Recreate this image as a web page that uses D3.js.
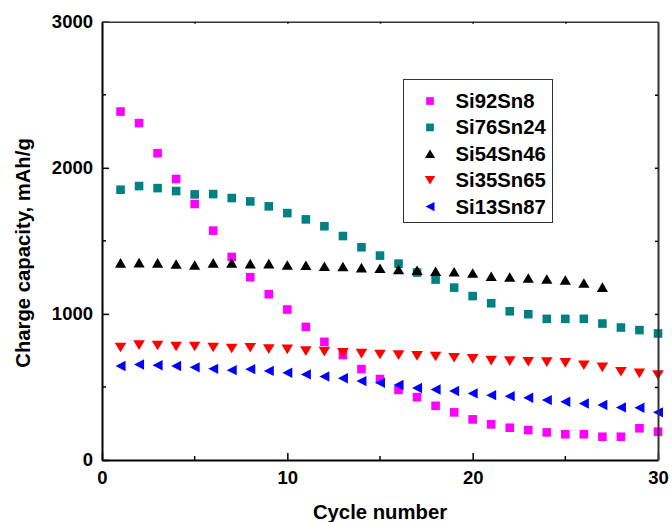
<!DOCTYPE html>
<html>
<head>
<meta charset="utf-8">
<script src="https://cdn.jsdelivr.net/npm/d3@7"></script>
<style>
  html, body { margin: 0; padding: 0; background: #fff; }
  svg { display: block; font-family: "Liberation Sans", Arial, sans-serif; font-weight: bold; }
</style>
</head>
<body>
<div id="chart"></div>
<script>
// cycle numbers
const cycles = d3.range(1, 31);

// charge capacity (mAh/g)
const si92sn8 = [2385, 2306, 2100, 1923, 1752, 1570, 1390, 1251, 1135, 1030, 911, 809, 718, 622, 554,
    480, 430, 371, 326, 278, 244, 221, 205, 189, 176, 176, 159, 159, 217, 194];
const si76sn24 = [1850, 1875, 1861, 1841, 1818, 1820, 1793, 1770, 1736, 1690, 1647, 1600, 1533, 1456, 1399,
    1344, 1283, 1235, 1180, 1122, 1073, 1018, 998, 966, 966, 966, 934, 907, 889, 866];
const si54sn46 = [1349, 1351, 1349, 1342, 1335, 1349, 1349, 1344, 1344, 1335, 1333, 1326, 1324, 1317, 1312,
    1305, 1299, 1292, 1288, 1280, 1258, 1253, 1246, 1239, 1232, 1212, 1183];
const si35sn65 = [770, 786, 784, 777, 777, 770, 763, 768, 759, 757, 745, 742, 733, 728, 722,
    718, 713, 708, 700, 692, 680, 677, 672, 670, 665, 649, 634, 604, 593, 581];
const si13sn87 = [643, 654, 649, 643, 634, 624, 615, 622, 610, 597, 586, 572, 560, 540, 528,
    513, 493, 483, 472, 456, 444, 437, 426, 410, 399, 387, 376, 360, 358, 326];

const seriesNames = ['Si92Sn8', 'Si76Sn24', 'Si54Sn46', 'Si35Sn65', 'Si13Sn87'];
const xTicks = [0, 10, 20, 30];
const yTicks = [0, 1000, 2000, 3000];

const series = [
    { name: seriesNames[0], values: si92sn8, color: '#ff00ff', shape: 'square' },
    { name: seriesNames[1], values: si76sn24, color: '#008080', shape: 'square' },
    { name: seriesNames[2], values: si54sn46, color: '#000000', shape: 'up' },
    { name: seriesNames[3], values: si35sn65, color: '#ff0000', shape: 'down' },
    { name: seriesNames[4], values: si13sn87, color: '#0000ff', shape: 'left' },
];

const width = 672, height = 522;
const margin = { left: 102, right: 14, top: 21.7, bottom: 62 };

const x = d3.scaleLinear().domain([0, 30]).range([margin.left, width - margin.right]);
const y = d3.scaleLinear().domain([0, 3000]).range([height - margin.bottom, margin.top]);

const svg = d3.select('#chart').append('svg')
    .attr('width', width)
    .attr('height', height);

// marker paths centred on the bounding box
function markerPath(shape) {
    if (shape === 'square') return 'M-4.3,-4.3H4.3V4.3H-4.3Z';
    if (shape === 'up') return 'M0,-4.8L5.6,4.8L-5.6,4.8Z';
    if (shape === 'down') return 'M0,4.8L5.8,-4.8L-5.8,-4.8Z';
    return 'M-5,0L5,-5.2L5,5.2Z';
}

// points
series.forEach(s => {
    svg.append('g')
        .attr('class', 'series')
        .selectAll('path')
        .data(s.values)
        .enter()
        .append('path')
            .attr('d', markerPath(s.shape))
            .attr('transform', (d, i) => `translate(${x(cycles[i])},${y(d)})`)
            .attr('fill', s.color);
});

// axes, ticks point inward
const x0 = x.range()[0], x1 = x.range()[1];
const y0 = y.range()[0], y1 = y.range()[1];
const fmt = d3.format('d');

const bottomAxis = svg.append('g')
    .attr('transform', `translate(0,${y0})`)
    .call(d3.axisBottom(x).tickValues(xTicks).tickFormat(fmt).tickSizeInner(-7).tickSizeOuter(0).tickPadding(11));
bottomAxis.append('g').selectAll('line')
    .data([5, 15, 25]).enter().append('line')
    .attr('x1', d => x(d)).attr('x2', d => x(d)).attr('y1', 0).attr('y2', -4);

const leftAxis = svg.append('g')
    .attr('transform', `translate(${x0},0)`)
    .call(d3.axisLeft(y).tickValues(yTicks).tickFormat(fmt).tickSizeInner(-7).tickSizeOuter(0).tickPadding(9));
leftAxis.append('g').selectAll('line')
    .data([500, 1500, 2500]).enter().append('line')
    .attr('y1', d => y(d)).attr('y2', d => y(d)).attr('x1', 0).attr('x2', 4);

const topAxis = svg.append('g')
    .attr('transform', `translate(0,${y1})`)
    .call(d3.axisTop(x).tickValues([5, 10, 15, 20, 25]).tickSizeInner(-2).tickSizeOuter(0).tickFormat(''));

const rightAxis = svg.append('g')
    .attr('transform', `translate(${x1},0)`)
    .call(d3.axisRight(y).tickValues([500, 1000, 1500, 2000, 2500]).tickSizeInner(-3).tickSizeOuter(0).tickFormat(''));

[bottomAxis, leftAxis, topAxis, rightAxis].forEach(g => {
    g.select('.domain').attr('stroke', '#000').attr('stroke-width', 2);
    g.selectAll('line').attr('stroke', '#000').attr('stroke-width', 1.5);
});
topAxis.select('.domain').attr('stroke', '#333').attr('stroke-width', 1.5);
rightAxis.select('.domain').attr('stroke', '#333').attr('stroke-width', 2);

svg.selectAll('.tick text')
    .attr('font-family', '"Liberation Sans", Arial, sans-serif')
    .attr('font-weight', 'bold')
    .attr('font-size', 18.5)
    .attr('fill', '#000');

// axis titles
svg.append('text')
    .attr('x', (x0 + x1) / 2)
    .attr('y', 519)
    .attr('text-anchor', 'middle')
    .attr('font-size', 20.3)
    .text('Cycle number');

svg.append('text')
    .attr('transform', `translate(30,253) rotate(-90)`)
    .attr('text-anchor', 'middle')
    .attr('font-size', 20.3)
    .text('Charge capacity, mAh/g');

// legend
const legend = svg.append('g').attr('class', 'legend');
legend.append('rect')
    .attr('x', 403.5).attr('y', 79.5)
    .attr('width', 149).attr('height', 143)
    .attr('fill', '#fff').attr('stroke', '#333').attr('stroke-width', 1);

const rows = legend.selectAll('g.row')
    .data(series)
    .enter()
    .append('g')
    .attr('class', 'row')
    .attr('transform', (d, i) => `translate(430,${101 + i * 26.4})`);
rows.append('path')
    .attr('d', d => markerPath(d.shape))
    .attr('transform', 'scale(0.9)')
    .attr('fill', d => d.color);
rows.append('text')
    .attr('x', 25.5)
    .attr('y', 7)
    .attr('font-size', 20.3)
    .text(d => d.name);
</script>
</body>
</html>
